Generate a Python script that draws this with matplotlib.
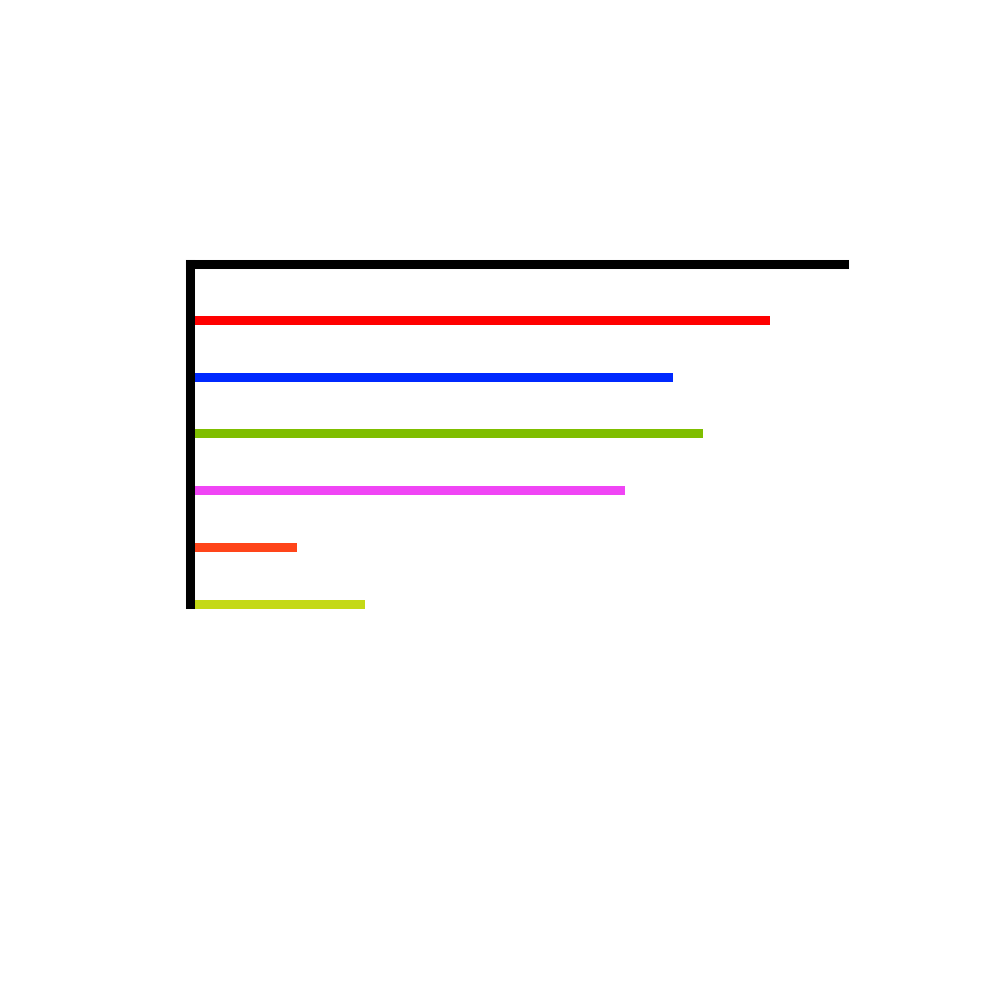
import numpy as np
import matplotlib.pyplot as plt

categories = ["A", "B", "C", "D", "E", "F"]
values = [88.7, 73.8, 78.4, 66.5, 16.4, 26.7]
colors = ["#ff0000", "#0029ff", "#7fbe00", "#f045f5", "#ff451a", "#c4d916"]

fig = plt.figure(figsize=(10, 10), dpi=100)
ax = fig.add_axes([0.190, 0.3958, 0.6542, 0.3407])

y = np.arange(len(categories))
bars = ax.barh(y, values, height=0.159, color=colors)
for b in bars:
    b.set_clip_on(False)

ax.set_xlim(0, 100)
ax.set_ylim(len(categories) - 1, -1)

ax.spines["right"].set_visible(False)
ax.spines["bottom"].set_visible(False)
for side in ["left", "top"]:
    ax.spines[side].set_linewidth(6.5)
    ax.spines[side].set_capstyle("projecting")
    ax.spines[side].set_zorder(3)
ax.set_xticks([])
ax.set_yticks([])

fig.savefig("out.png", dpi=100)
